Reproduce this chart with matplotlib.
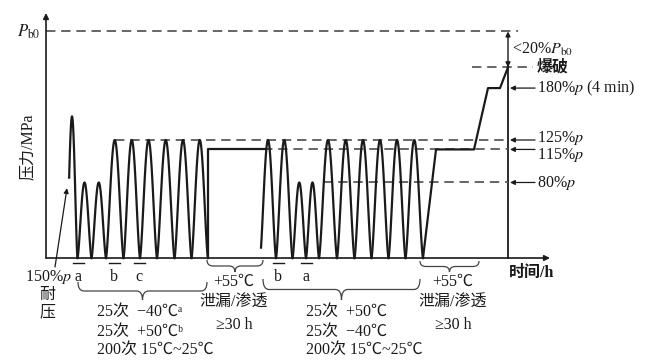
import numpy as np
import matplotlib
matplotlib.use("Agg")
import matplotlib.pyplot as plt
from matplotlib.path import Path
from matplotlib.patches import PathPatch

plt.rcParams['font.family'] = ['Liberation Serif', 'Noto Sans CJK SC', 'DejaVu Sans']
plt.rcParams['mathtext.fontset'] = 'stix'

# pressure levels, % of working pressure p
P_B0 = 240
P_BURST = 202
HOLD_LEVELS = [180, 125, 115, 80]
HOLD_LABELS = ["180%$p$ (4 min)", "125%$p$", "115%$p$", "80%$p$"]

# proof pressure peak (time units are arbitrary)
proof_t = [20.5, 31.5]
proof_p = 150

# first block of cycles: valley times and peak pressures
block1_valleys = [31.5, 45.5, 60, 77.5, 94, 111, 128.5, 145.5, 162]
block1_peaks = [80, 80, 125, 125, 125, 125, 125, 125]
block1_marks = ["a", "b", "c"]
block1_mark_t = [32, 68, 93]

# first leak/permeation hold
leak1_t = [162, 162, 220]
leak1_p = [0, 115, 115]

# second block of cycles
block2_lead = [214, 230]
block2_valleys = [230, 246.5, 260, 273, 291, 308.5, 325.5, 342.5, 359.5, 377]
block2_peaks = [125, 125, 80, 80, 125, 125, 125, 125, 125, 125]
block2_marks = ["b", "a"]
block2_mark_t = [232, 260]

# second hold, then burst
final_t = [377, 390, 428, 442, 454, 462]
final_p = [0, 115, 115, 180, 180, 202]
T_BURST = 462

INK = "#1a1a1a"
DASH = "#5a5a5a"
LW = 1.6
FS = 11.5


def bump(ax, t0, t1, h, p_from=0.0):
    s = np.linspace(0, 1, 80)
    t = t0 + (t1 - t0) * s
    p = h * np.sin(np.pi * s) ** 1.5
    keep = (s >= 0.5) | (p >= p_from)
    ax.plot(t[keep], p[keep], color=INK, lw=LW)


def brace(ax, t0, t1, top, tip, r=6):
    mid = (top + tip) / 2
    tm = (t0 + t1) / 2
    verts = [(t0, top), (t0, mid), (t0 + r, mid), (tm - r, mid),
             (tm, mid), (tm, tip), (tm, mid), (tm + r, mid),
             (t1 - r, mid), (t1, mid), (t1, top)]
    codes = [Path.MOVETO, Path.CURVE3, Path.CURVE3, Path.LINETO,
             Path.CURVE3, Path.CURVE3, Path.CURVE3, Path.CURVE3,
             Path.LINETO, Path.CURVE3, Path.CURVE3]
    ax.add_patch(PathPatch(Path(verts, codes), fill=False, lw=0.9, ec="#444444"))


def arrow(ax, start, end, lw=1.0, scale=8):
    ax.annotate("", xy=end, xytext=start,
                arrowprops=dict(arrowstyle="-|>", lw=lw, color=INK,
                                mutation_scale=scale, shrinkA=0, shrinkB=0))


fig = plt.figure(figsize=(6.47, 3.61), dpi=100)
ax = fig.add_axes([0, 0, 1, 1])
ax.set_xlim(-46, 601)
ax.set_ylim(-109.1, 273.3)
ax.axis("off")

# axes with arrows
arrow(ax, (0, 0), (504, 0), lw=1.2)
arrow(ax, (0, 0), (0, 259.5), lw=1.2)
ax.plot([T_BURST, T_BURST], [0, P_BURST], color=INK, lw=1.3)

# dashed reference levels
dash_kw = dict(color=DASH, lw=1.3, dashes=(5.2, 3.2))
ax.plot([0, 472], [P_B0, P_B0], **dash_kw)
ax.plot([426, 487], [P_BURST, P_BURST], **dash_kw)
ax.plot([69, T_BURST], [125, 125], **dash_kw)
ax.plot([217, T_BURST], [115, 115], **dash_kw)
ax.plot([277, T_BURST], [80, 80], **dash_kw)

# pressure trace
bump(ax, proof_t[0], proof_t[1], proof_p, p_from=85)
for t0, t1, h in zip(block1_valleys[:-1], block1_valleys[1:], block1_peaks):
    bump(ax, t0, t1, h)
ax.plot(leak1_t, leak1_p, color=INK, lw=LW)
bump(ax, block2_lead[0], block2_lead[1], block2_peaks[0], p_from=10)
for t0, t1, h in zip(block2_valleys[:-1], block2_valleys[1:], block2_peaks[1:]):
    bump(ax, t0, t1, h)
ax.plot(final_t, final_p, color=INK, lw=LW)

# burst margin double arrow
ax.annotate("", xy=(T_BURST, P_B0), xytext=(T_BURST, P_BURST),
            arrowprops=dict(arrowstyle="<|-|>", lw=1.0, color=INK,
                            mutation_scale=7, shrinkA=0, shrinkB=0))
ax.text(466, 221, "<20%$P_{\\mathrm{b0}}$", fontsize=FS, va="center", color=INK)
ax.text(491, P_BURST, "爆破", fontsize=FS, va="center", color=INK, weight="bold")

# right side level labels
label_y = [180, 127, 109, 79.4]
for lvl, lab, ly in zip(HOLD_LEVELS, HOLD_LABELS, label_y):
    arrow(ax, (489, lvl), (464, lvl), lw=0.9, scale=7)
    ax.text(491, ly, lab, fontsize=FS, va="center", color=INK)

# axis labels
ax.text(-17, 239.4, "$P_{\\mathrm{b0}}$", fontsize=12, ha="center", va="center", color=INK)
ax.text(-18, 117.6, "压力/MPa", fontsize=11.5, rotation=90, ha="center", va="center", color=INK)
ax.text(486, -16, "时间/h", fontsize=FS, ha="center", va="center", color=INK, weight="bold")

# proof pressure annotation
arrow(ax, (9, -9.5), (21, 74), lw=0.9, scale=7)
ax.text(2, -20, "150%$p$", fontsize=FS, ha="center", va="center", color=INK)
ax.text(1, -39, "耐", fontsize=FS, ha="center", va="center", color=INK)
ax.text(1, -57, "压", fontsize=FS, ha="center", va="center", color=INK)

# cycle markers with overbars
for lab, t in zip(block1_marks + block2_marks, block1_mark_t + block2_mark_t):
    ax.plot([t - 5.5, t + 5.5], [-5.3, -5.3], color=INK, lw=1.0)
    ax.text(t, -20, lab, fontsize=FS, ha="center", va="center", color=INK)

# braces and condition notes
brace(ax, 32, 161, -25.4, -44.5)
brace(ax, 161, 217, -2.1, -14.8)
brace(ax, 217, 374, -22.2, -44.5)
brace(ax, 374, 433, -3.2, -14.8)

cond1 = ["25次  −40℃ᵃ", "25次  +50℃ᵇ", "200次 15℃~25℃"]
cond2 = ["25次  +50℃", "25次  −40℃", "200次 15℃~25℃"]
cond_y = [-57.2, -78.4, -97.5]
for line1, line2, y in zip(cond1, cond2, cond_y):
    ax.text(51, y, line1, fontsize=FS, va="center", color=INK)
    ax.text(260, y, line2, fontsize=FS, va="center", color=INK)

hold = ["+55℃", "泄漏/渗透", "≥30 h"]
hold_y = [-25.4, -47.7, -71]
for line, y in zip(hold, hold_y):
    ax.text(188, y, line, fontsize=FS, ha="center", va="center", color=INK)
    ax.text(407, y, line, fontsize=FS, ha="center", va="center", color=INK)

fig.savefig("out.png", dpi=100)
